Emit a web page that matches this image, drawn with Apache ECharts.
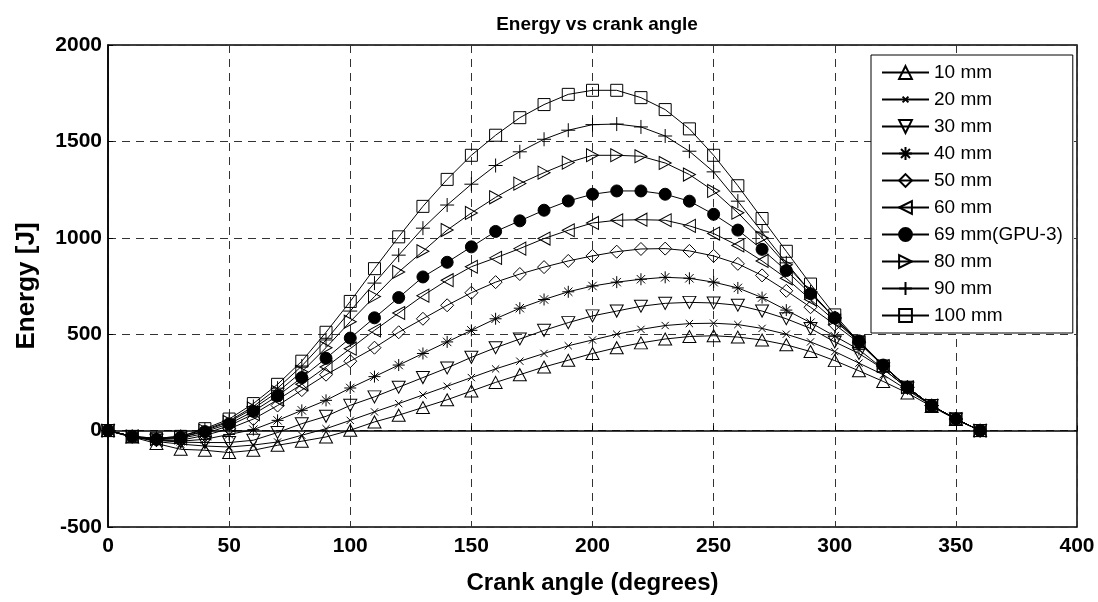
<!DOCTYPE html>
<html>
<head>
<meta charset="utf-8">
<script src="https://cdn.jsdelivr.net/npm/echarts@6/dist/echarts.min.js"></script>
<style>
  html, body { margin: 0; padding: 0; background: #fff; }
  #chart { width: 1098px; height: 602px; }
</style>
</head>
<body>
<div id="chart"></div>
<script>
// Crank angle samples (degrees)
const crankAngle = [0, 10, 20, 30, 40, 50, 60, 70, 80, 90, 100, 110, 120, 130, 140, 150, 160, 170, 180,
  190, 200, 210, 220, 230, 240, 250, 260, 270, 280, 290, 300, 310, 320, 330, 340, 350, 360];

// Energy [J] per stroke length
const e10mm = [0, -33, -67, -97, -102, -114, -102, -76, -55, -33, 2, 45, 80, 120, 160, 205, 250, 290, 330,
  365, 400, 430, 455, 475, 488, 492, 485, 470, 445, 410, 363, 310, 255, 195, 125, 58, 0];
const e20mm = [0, -30, -57, -70, -80, -85, -75, -59, -24, 10, 53, 97, 140, 185, 230, 275, 320, 360, 400,
  440, 470, 500, 525, 545, 555, 557, 550, 530, 500, 460, 410, 350, 290, 210, 130, 60, 0];
const e30mm = [0, -30, -50, -60, -62, -62, -50, -10, 36, 74, 131, 175, 225, 275, 325, 380, 430, 475, 520,
  560, 595, 620, 645, 660, 665, 662, 650, 620, 580, 530, 460, 400, 320, 220, 130, 60, 0];
const e40mm = [0, -35, -50, -55, -45, -20, 5, 53, 105, 157, 221, 280, 340, 400, 460, 520, 580, 635, 680,
  720, 750, 770, 785, 795, 790, 770, 740, 690, 625, 560, 490, 420, 320, 220, 130, 60, 0];
const e50mm = [0, -30, -50, -50, -25, 10, 60, 130, 210, 290, 360, 430, 510, 580, 650, 715, 770, 812, 848,
  880, 906, 928, 942, 944, 932, 906, 865, 805, 725, 640, 550, 455, 335, 225, 130, 60, 0];
const e60mm = [0, -30, -48, -40, -15, 25, 85, 160, 240, 330, 425, 520, 610, 700, 780, 850, 896, 944, 996,
  1039, 1077, 1091, 1094, 1091, 1062, 1022, 960, 880, 790, 680, 570, 460, 335, 225, 130, 60, 0];
const e69mm = [0, -30, -45, -35, -5, 35, 100, 180, 275, 375, 480, 585, 690, 797, 873, 953, 1033, 1088, 1143,
  1191, 1226, 1243, 1243, 1226, 1190, 1122, 1040, 940, 830, 710, 585, 465, 340, 225, 130, 60, 0];
const e80mm = [0, -30, -45, -35, 0, 45, 115, 200, 305, 430, 565, 695, 823, 930, 1040, 1129, 1210, 1281, 1338,
  1390, 1428, 1428, 1423, 1388, 1328, 1243, 1130, 1000, 860, 720, 580, 460, 335, 225, 130, 60, 0];
const e90mm = [0, -30, -40, -30, 5, 50, 125, 220, 335, 470, 620, 765, 910, 1050, 1170, 1278, 1375, 1446, 1511,
  1558, 1587, 1590, 1575, 1528, 1449, 1342, 1190, 1030, 870, 720, 585, 460, 335, 225, 130, 60, 0];
const e100mm = [0, -30, -40, -30, 10, 60, 140, 240, 360, 510, 670, 840, 1005, 1163, 1303, 1428, 1532, 1623, 1691,
  1744, 1765, 1765, 1727, 1665, 1565, 1428, 1270, 1100, 930, 760, 600, 460, 335, 225, 130, 60, 0];

const seriesNames = ['10 mm', '20 mm', '30 mm', '40 mm', '50 mm', '60 mm', '69 mm(GPU-3)', '80 mm', '90 mm', '100 mm'];
const seriesValues = [e10mm, e20mm, e30mm, e40mm, e50mm, e60mm, e69mm, e80mm, e90mm, e100mm];

const xTicks = [0, 50, 100, 150, 200, 250, 300, 350, 400];
const yTicks = [-500, 0, 500, 1000, 1500, 2000];

// Marker shapes, one per stroke length
const markers = [
  { symbol: 'path://M5,0L10,9L0,9Z', size: [13, 12] },                       // up triangle
  { symbol: 'path://M-6,-6M16,16M0,0L10,10M10,0L0,10', size: 16 },          // small x
  { symbol: 'path://M0,0L10,0L5,9Z', size: [13, 12] },                      // down triangle
  { symbol: 'path://M5,0L5,10M0,5L10,5M1.5,1.5L8.5,8.5M8.5,1.5L1.5,8.5', size: 12 }, // asterisk
  { symbol: 'path://M5,0L10,5L5,10L0,5Z', size: 13 },                       // diamond
  { symbol: 'path://M0,5L9,0L9,10Z', size: [12, 13] },                      // left triangle
  { symbol: 'circle', size: 12, filled: true },                             // filled circle
  { symbol: 'path://M0,0L9,5L0,10Z', size: [12, 13] },                      // right triangle
  { symbol: 'path://M5,0L5,10M0,5L10,5', size: 14 },                        // plus
  { symbol: 'rect', size: 12 }                                              // square
];

const FONT = '"Liberation Sans", Arial, Helvetica, sans-serif';

const series = seriesNames.map((name, i) => ({
  name: name,
  type: 'line',
  data: crankAngle.map((a, k) => [a, seriesValues[i][k]]),
  symbol: markers[i].symbol,
  symbolSize: markers[i].size,
  showAllSymbol: true,
  lineStyle: { color: '#000', width: 1 },
  itemStyle: {
    color: markers[i].filled ? '#000' : 'transparent',
    borderColor: '#000',
    borderWidth: 1
  },
  emphasis: { disabled: true },
  z: 3 + i
}));

const chart = echarts.init(document.getElementById('chart'), null, { renderer: 'canvas' });
chart.setOption({
  animation: false,
  backgroundColor: '#fff',
  title: {
    text: 'Energy vs crank angle',
    left: 592,
    top: 10,
    textAlign: 'center',
    textStyle: { fontFamily: FONT, fontSize: 19, fontWeight: 'bold', color: '#000' }
  },
  grid: {
    left: 108, right: 21, top: 45, bottom: 75,
    show: true, borderColor: '#000', borderWidth: 1.5, backgroundColor: '#fff'
  },
  legend: {
    data: seriesNames,
    orient: 'vertical',
    left: 871,
    top: 55,
    padding: [8, 10, 8, 10],
    itemWidth: 47,
    itemHeight: 16,
    itemGap: 8,
    backgroundColor: '#fff',
    borderColor: '#000',
    borderWidth: 1,
    borderRadius: 0,
    selectedMode: false,
    textStyle: { fontFamily: FONT, fontSize: 19, color: '#000', lineHeight: 18 }
  },
  xAxis: {
    type: 'value',
    min: xTicks[0],
    max: xTicks[xTicks.length - 1],
    interval: 50,
    name: 'Crank angle (degrees)',
    nameLocation: 'middle',
    nameGap: 44,
    nameTextStyle: { fontFamily: FONT, fontSize: 24, fontWeight: 'bold', color: '#000' },
    axisLine: { show: true, lineStyle: { color: '#000', width: 1.5 } },
    axisTick: { show: true, inside: true, length: 5, lineStyle: { color: '#000' } },
    axisLabel: { fontFamily: FONT, fontSize: 21, fontWeight: 'bold', color: '#000', margin: 9,
      formatter: v => String(v) },
    splitLine: { show: true, lineStyle: { color: '#333', width: 1, type: [8, 6] } }
  },
  yAxis: {
    type: 'value',
    min: yTicks[0],
    max: yTicks[yTicks.length - 1],
    interval: 500,
    name: 'Energy [J]',
    nameLocation: 'middle',
    nameGap: 68,
    nameTextStyle: { fontFamily: FONT, fontSize: 26, fontWeight: 'bold', color: '#000' },
    axisLine: { show: true, lineStyle: { color: '#000', width: 1.5 } },
    axisTick: { show: true, inside: true, length: 5, lineStyle: { color: '#000' } },
    axisLabel: { fontFamily: FONT, fontSize: 21, fontWeight: 'bold', color: '#000', margin: 6,
      formatter: v => String(v) },
    splitLine: { show: true, lineStyle: { color: '#333', width: 1, type: [8, 6] } }
  },
  series: series
});
</script>
</body>
</html>
